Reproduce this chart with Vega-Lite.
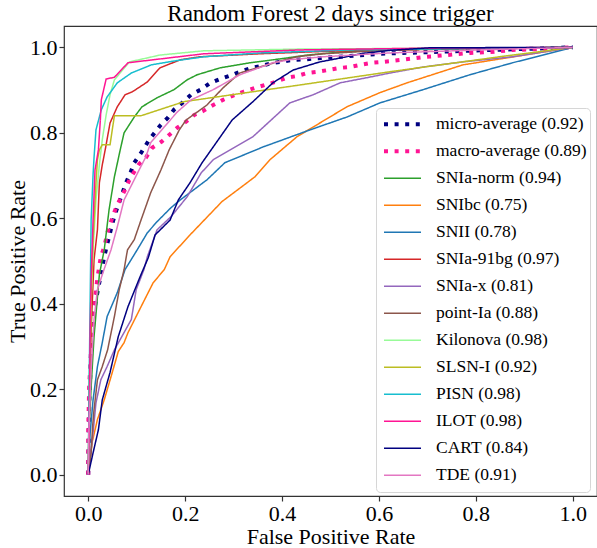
{
 "$schema": "https://vega.github.io/schema/vega-lite/v6.json",
 "width": 533, "height": 470,
 "autosize": {"type": "none"},
 "padding": {"left": 64, "top": 26, "right": 0, "bottom": 52},
 "background": "white",
 "title": {"text": "Random Forest 2 days since trigger", "anchor": "middle", "frame": "group", "offset": 0, "font": "Liberation Serif", "fontSize": 23, "fontWeight": "normal", "color": "black"},
 "data": {"values": [
{"series":"micro-average (0.92)","fpr":0,"tpr":0},{"series":"micro-average (0.92)","fpr":0.001,"tpr":0.082},{"series":"micro-average (0.92)","fpr":0.002,"tpr":0.168},{"series":"micro-average (0.92)","fpr":0.006,"tpr":0.285},{"series":"micro-average (0.92)","fpr":0.009,"tpr":0.356},{"series":"micro-average (0.92)","fpr":0.016,"tpr":0.409},{"series":"micro-average (0.92)","fpr":0.026,"tpr":0.468},{"series":"micro-average (0.92)","fpr":0.033,"tpr":0.51},{"series":"micro-average (0.92)","fpr":0.04,"tpr":0.543},{"series":"micro-average (0.92)","fpr":0.05,"tpr":0.589},{"series":"micro-average (0.92)","fpr":0.057,"tpr":0.615},{"series":"micro-average (0.92)","fpr":0.071,"tpr":0.66},{"series":"micro-average (0.92)","fpr":0.078,"tpr":0.683},{"series":"micro-average (0.92)","fpr":0.088,"tpr":0.709},{"series":"micro-average (0.92)","fpr":0.095,"tpr":0.73},{"series":"micro-average (0.92)","fpr":0.109,"tpr":0.753},{"series":"micro-average (0.92)","fpr":0.126,"tpr":0.784},{"series":"micro-average (0.92)","fpr":0.15,"tpr":0.819},{"series":"micro-average (0.92)","fpr":0.164,"tpr":0.835},{"series":"micro-average (0.92)","fpr":0.177,"tpr":0.854},{"series":"micro-average (0.92)","fpr":0.194,"tpr":0.87},{"series":"micro-average (0.92)","fpr":0.212,"tpr":0.889},{"series":"micro-average (0.92)","fpr":0.232,"tpr":0.901},{"series":"micro-average (0.92)","fpr":0.252,"tpr":0.917},{"series":"micro-average (0.92)","fpr":0.272,"tpr":0.926},{"series":"micro-average (0.92)","fpr":0.293,"tpr":0.934},{"series":"micro-average (0.92)","fpr":0.313,"tpr":0.943},{"series":"micro-average (0.92)","fpr":0.334,"tpr":0.951},{"series":"micro-average (0.92)","fpr":0.359,"tpr":0.957},{"series":"micro-average (0.92)","fpr":0.379,"tpr":0.963},{"series":"micro-average (0.92)","fpr":0.402,"tpr":0.967},{"series":"micro-average (0.92)","fpr":0.423,"tpr":0.971},{"series":"micro-average (0.92)","fpr":0.447,"tpr":0.972},{"series":"micro-average (0.92)","fpr":0.602,"tpr":0.985},{"series":"micro-average (0.92)","fpr":0.808,"tpr":0.993},{"series":"micro-average (0.92)","fpr":1,"tpr":1},
{"series":"macro-average (0.89)","fpr":0,"tpr":0},{"series":"macro-average (0.89)","fpr":0,"tpr":0.105},{"series":"macro-average (0.89)","fpr":0.002,"tpr":0.206},{"series":"macro-average (0.89)","fpr":0.006,"tpr":0.299},{"series":"macro-average (0.89)","fpr":0.009,"tpr":0.358},{"series":"macro-average (0.89)","fpr":0.014,"tpr":0.409},{"series":"macro-average (0.89)","fpr":0.019,"tpr":0.461},{"series":"macro-average (0.89)","fpr":0.026,"tpr":0.51},{"series":"macro-average (0.89)","fpr":0.033,"tpr":0.533},{"series":"macro-average (0.89)","fpr":0.04,"tpr":0.568},{"series":"macro-average (0.89)","fpr":0.047,"tpr":0.592},{"series":"macro-average (0.89)","fpr":0.054,"tpr":0.615},{"series":"macro-average (0.89)","fpr":0.062,"tpr":0.636},{"series":"macro-average (0.89)","fpr":0.078,"tpr":0.671},{"series":"macro-average (0.89)","fpr":0.085,"tpr":0.69},{"series":"macro-average (0.89)","fpr":0.095,"tpr":0.709},{"series":"macro-average (0.89)","fpr":0.105,"tpr":0.727},{"series":"macro-average (0.89)","fpr":0.119,"tpr":0.742},{"series":"macro-average (0.89)","fpr":0.132,"tpr":0.765},{"series":"macro-average (0.89)","fpr":0.151,"tpr":0.779},{"series":"macro-average (0.89)","fpr":0.167,"tpr":0.795},{"series":"macro-average (0.89)","fpr":0.184,"tpr":0.812},{"series":"macro-average (0.89)","fpr":0.202,"tpr":0.826},{"series":"macro-average (0.89)","fpr":0.219,"tpr":0.842},{"series":"macro-average (0.89)","fpr":0.237,"tpr":0.851},{"series":"macro-average (0.89)","fpr":0.258,"tpr":0.865},{"series":"macro-average (0.89)","fpr":0.278,"tpr":0.877},{"series":"macro-average (0.89)","fpr":0.299,"tpr":0.887},{"series":"macro-average (0.89)","fpr":0.32,"tpr":0.896},{"series":"macro-average (0.89)","fpr":0.344,"tpr":0.905},{"series":"macro-average (0.89)","fpr":0.365,"tpr":0.912},{"series":"macro-average (0.89)","fpr":0.386,"tpr":0.919},{"series":"macro-average (0.89)","fpr":0.41,"tpr":0.929},{"series":"macro-average (0.89)","fpr":0.431,"tpr":0.933},{"series":"macro-average (0.89)","fpr":0.452,"tpr":0.94},{"series":"macro-average (0.89)","fpr":0.474,"tpr":0.943},{"series":"macro-average (0.89)","fpr":0.495,"tpr":0.947},{"series":"macro-average (0.89)","fpr":0.52,"tpr":0.952},{"series":"macro-average (0.89)","fpr":0.54,"tpr":0.954},{"series":"macro-average (0.89)","fpr":0.561,"tpr":0.959},{"series":"macro-average (0.89)","fpr":0.586,"tpr":0.964},{"series":"macro-average (0.89)","fpr":0.608,"tpr":0.966},{"series":"macro-average (0.89)","fpr":0.649,"tpr":0.971},{"series":"macro-average (0.89)","fpr":0.699,"tpr":0.978},{"series":"macro-average (0.89)","fpr":0.74,"tpr":0.982},{"series":"macro-average (0.89)","fpr":0.788,"tpr":0.987},{"series":"macro-average (0.89)","fpr":0.829,"tpr":0.989},{"series":"macro-average (0.89)","fpr":0.876,"tpr":0.994},{"series":"macro-average (0.89)","fpr":0.932,"tpr":0.996},{"series":"macro-average (0.89)","fpr":1,"tpr":1},
{"series":"SNIa-norm (0.94)","fpr":0,"tpr":0},{"series":"SNIa-norm (0.94)","fpr":0.002,"tpr":0.105},{"series":"SNIa-norm (0.94)","fpr":0.006,"tpr":0.206},{"series":"SNIa-norm (0.94)","fpr":0.012,"tpr":0.323},{"series":"SNIa-norm (0.94)","fpr":0.023,"tpr":0.468},{"series":"SNIa-norm (0.94)","fpr":0.033,"tpr":0.526},{"series":"SNIa-norm (0.94)","fpr":0.043,"tpr":0.62},{"series":"SNIa-norm (0.94)","fpr":0.054,"tpr":0.697},{"series":"SNIa-norm (0.94)","fpr":0.066,"tpr":0.76},{"series":"SNIa-norm (0.94)","fpr":0.074,"tpr":0.8},{"series":"SNIa-norm (0.94)","fpr":0.095,"tpr":0.837},{"series":"SNIa-norm (0.94)","fpr":0.111,"tpr":0.861},{"series":"SNIa-norm (0.94)","fpr":0.142,"tpr":0.882},{"series":"SNIa-norm (0.94)","fpr":0.177,"tpr":0.901},{"series":"SNIa-norm (0.94)","fpr":0.204,"tpr":0.924},{"series":"SNIa-norm (0.94)","fpr":0.225,"tpr":0.936},{"series":"SNIa-norm (0.94)","fpr":0.272,"tpr":0.952},{"series":"SNIa-norm (0.94)","fpr":0.334,"tpr":0.964},{"series":"SNIa-norm (0.94)","fpr":0.396,"tpr":0.973},{"series":"SNIa-norm (0.94)","fpr":0.452,"tpr":0.982},{"series":"SNIa-norm (0.94)","fpr":0.52,"tpr":0.989},{"series":"SNIa-norm (0.94)","fpr":0.623,"tpr":0.994},{"series":"SNIa-norm (0.94)","fpr":0.808,"tpr":0.998},{"series":"SNIa-norm (0.94)","fpr":1,"tpr":1},
{"series":"SNIbc (0.75)","fpr":0,"tpr":0},{"series":"SNIbc (0.75)","fpr":0.008,"tpr":0.075},{"series":"SNIbc (0.75)","fpr":0.019,"tpr":0.129},{"series":"SNIbc (0.75)","fpr":0.033,"tpr":0.175},{"series":"SNIbc (0.75)","fpr":0.047,"tpr":0.229},{"series":"SNIbc (0.75)","fpr":0.062,"tpr":0.288},{"series":"SNIbc (0.75)","fpr":0.074,"tpr":0.309},{"series":"SNIbc (0.75)","fpr":0.082,"tpr":0.332},{"series":"SNIbc (0.75)","fpr":0.109,"tpr":0.393},{"series":"SNIbc (0.75)","fpr":0.134,"tpr":0.449},{"series":"SNIbc (0.75)","fpr":0.157,"tpr":0.48},{"series":"SNIbc (0.75)","fpr":0.169,"tpr":0.51},{"series":"SNIbc (0.75)","fpr":0.21,"tpr":0.561},{"series":"SNIbc (0.75)","fpr":0.276,"tpr":0.639},{"series":"SNIbc (0.75)","fpr":0.344,"tpr":0.697},{"series":"SNIbc (0.75)","fpr":0.375,"tpr":0.737},{"series":"SNIbc (0.75)","fpr":0.431,"tpr":0.791},{"series":"SNIbc (0.75)","fpr":0.534,"tpr":0.861},{"series":"SNIbc (0.75)","fpr":0.602,"tpr":0.894},{"series":"SNIbc (0.75)","fpr":0.658,"tpr":0.917},{"series":"SNIbc (0.75)","fpr":0.773,"tpr":0.959},{"series":"SNIbc (0.75)","fpr":1,"tpr":1},
{"series":"SNII (0.78)","fpr":0,"tpr":0},{"series":"SNII (0.78)","fpr":0.004,"tpr":0.098},{"series":"SNII (0.78)","fpr":0.01,"tpr":0.175},{"series":"SNII (0.78)","fpr":0.019,"tpr":0.253},{"series":"SNII (0.78)","fpr":0.029,"tpr":0.309},{"series":"SNII (0.78)","fpr":0.039,"tpr":0.37},{"series":"SNII (0.78)","fpr":0.06,"tpr":0.426},{"series":"SNII (0.78)","fpr":0.076,"tpr":0.48},{"series":"SNII (0.78)","fpr":0.101,"tpr":0.526},{"series":"SNII (0.78)","fpr":0.122,"tpr":0.566},{"series":"SNII (0.78)","fpr":0.142,"tpr":0.592},{"series":"SNII (0.78)","fpr":0.171,"tpr":0.625},{"series":"SNII (0.78)","fpr":0.19,"tpr":0.643},{"series":"SNII (0.78)","fpr":0.245,"tpr":0.69},{"series":"SNII (0.78)","fpr":0.282,"tpr":0.73},{"series":"SNII (0.78)","fpr":0.361,"tpr":0.767},{"series":"SNII (0.78)","fpr":0.458,"tpr":0.807},{"series":"SNII (0.78)","fpr":0.534,"tpr":0.837},{"series":"SNII (0.78)","fpr":0.602,"tpr":0.87},{"series":"SNII (0.78)","fpr":0.691,"tpr":0.901},{"series":"SNII (0.78)","fpr":0.788,"tpr":0.936},{"series":"SNII (0.78)","fpr":0.876,"tpr":0.964},{"series":"SNII (0.78)","fpr":1,"tpr":1},
{"series":"SNIa-91bg (0.97)","fpr":0,"tpr":0},{"series":"SNIa-91bg (0.97)","fpr":0.002,"tpr":0.129},{"series":"SNIa-91bg (0.97)","fpr":0.006,"tpr":0.339},{"series":"SNIa-91bg (0.97)","fpr":0.012,"tpr":0.503},{"series":"SNIa-91bg (0.97)","fpr":0.019,"tpr":0.573},{"series":"SNIa-91bg (0.97)","fpr":0.023,"tpr":0.683},{"series":"SNIa-91bg (0.97)","fpr":0.029,"tpr":0.725},{"series":"SNIa-91bg (0.97)","fpr":0.035,"tpr":0.76},{"series":"SNIa-91bg (0.97)","fpr":0.045,"tpr":0.823},{"series":"SNIa-91bg (0.97)","fpr":0.06,"tpr":0.861},{"series":"SNIa-91bg (0.97)","fpr":0.076,"tpr":0.889},{"series":"SNIa-91bg (0.97)","fpr":0.091,"tpr":0.896},{"series":"SNIa-91bg (0.97)","fpr":0.122,"tpr":0.919},{"series":"SNIa-91bg (0.97)","fpr":0.148,"tpr":0.952},{"series":"SNIa-91bg (0.97)","fpr":0.19,"tpr":0.971},{"series":"SNIa-91bg (0.97)","fpr":0.231,"tpr":0.978},{"series":"SNIa-91bg (0.97)","fpr":0.355,"tpr":0.985},{"series":"SNIa-91bg (0.97)","fpr":0.499,"tpr":0.991},{"series":"SNIa-91bg (0.97)","fpr":0.746,"tpr":0.996},{"series":"SNIa-91bg (0.97)","fpr":1,"tpr":1},
{"series":"SNIa-x (0.81)","fpr":0,"tpr":0},{"series":"SNIa-x (0.81)","fpr":0.01,"tpr":0.098},{"series":"SNIa-x (0.81)","fpr":0.016,"tpr":0.168},{"series":"SNIa-x (0.81)","fpr":0.026,"tpr":0.222},{"series":"SNIa-x (0.81)","fpr":0.039,"tpr":0.253},{"series":"SNIa-x (0.81)","fpr":0.054,"tpr":0.292},{"series":"SNIa-x (0.81)","fpr":0.089,"tpr":0.363},{"series":"SNIa-x (0.81)","fpr":0.099,"tpr":0.433},{"series":"SNIa-x (0.81)","fpr":0.115,"tpr":0.48},{"series":"SNIa-x (0.81)","fpr":0.122,"tpr":0.51},{"series":"SNIa-x (0.81)","fpr":0.142,"tpr":0.573},{"series":"SNIa-x (0.81)","fpr":0.171,"tpr":0.604},{"series":"SNIa-x (0.81)","fpr":0.204,"tpr":0.65},{"series":"SNIa-x (0.81)","fpr":0.233,"tpr":0.706},{"series":"SNIa-x (0.81)","fpr":0.258,"tpr":0.737},{"series":"SNIa-x (0.81)","fpr":0.34,"tpr":0.791},{"series":"SNIa-x (0.81)","fpr":0.416,"tpr":0.87},{"series":"SNIa-x (0.81)","fpr":0.464,"tpr":0.889},{"series":"SNIa-x (0.81)","fpr":0.52,"tpr":0.917},{"series":"SNIa-x (0.81)","fpr":0.575,"tpr":0.929},{"series":"SNIa-x (0.81)","fpr":0.623,"tpr":0.94},{"series":"SNIa-x (0.81)","fpr":0.691,"tpr":0.954},{"series":"SNIa-x (0.81)","fpr":0.773,"tpr":0.966},{"series":"SNIa-x (0.81)","fpr":0.876,"tpr":0.978},{"series":"SNIa-x (0.81)","fpr":1,"tpr":1},
{"series":"point-Ia (0.88)","fpr":0,"tpr":0},{"series":"point-Ia (0.88)","fpr":0.006,"tpr":0.051},{"series":"point-Ia (0.88)","fpr":0.009,"tpr":0.112},{"series":"point-Ia (0.88)","fpr":0.012,"tpr":0.152},{"series":"point-Ia (0.88)","fpr":0.019,"tpr":0.222},{"series":"point-Ia (0.88)","fpr":0.029,"tpr":0.253},{"series":"point-Ia (0.88)","fpr":0.04,"tpr":0.292},{"series":"point-Ia (0.88)","fpr":0.054,"tpr":0.37},{"series":"point-Ia (0.88)","fpr":0.064,"tpr":0.433},{"series":"point-Ia (0.88)","fpr":0.074,"tpr":0.48},{"series":"point-Ia (0.88)","fpr":0.081,"tpr":0.526},{"series":"point-Ia (0.88)","fpr":0.095,"tpr":0.55},{"series":"point-Ia (0.88)","fpr":0.109,"tpr":0.596},{"series":"point-Ia (0.88)","fpr":0.129,"tpr":0.66},{"series":"point-Ia (0.88)","fpr":0.15,"tpr":0.713},{"series":"point-Ia (0.88)","fpr":0.167,"tpr":0.76},{"series":"point-Ia (0.88)","fpr":0.188,"tpr":0.807},{"series":"point-Ia (0.88)","fpr":0.202,"tpr":0.83},{"series":"point-Ia (0.88)","fpr":0.223,"tpr":0.847},{"series":"point-Ia (0.88)","fpr":0.245,"tpr":0.865},{"series":"point-Ia (0.88)","fpr":0.278,"tpr":0.905},{"series":"point-Ia (0.88)","fpr":0.313,"tpr":0.94},{"series":"point-Ia (0.88)","fpr":0.348,"tpr":0.952},{"series":"point-Ia (0.88)","fpr":0.39,"tpr":0.966},{"series":"point-Ia (0.88)","fpr":0.431,"tpr":0.978},{"series":"point-Ia (0.88)","fpr":0.485,"tpr":0.985},{"series":"point-Ia (0.88)","fpr":0.623,"tpr":0.994},{"series":"point-Ia (0.88)","fpr":0.808,"tpr":0.998},{"series":"point-Ia (0.88)","fpr":1,"tpr":1},
{"series":"Kilonova (0.98)","fpr":0,"tpr":0},{"series":"Kilonova (0.98)","fpr":0.002,"tpr":0.222},{"series":"Kilonova (0.98)","fpr":0.006,"tpr":0.409},{"series":"Kilonova (0.98)","fpr":0.01,"tpr":0.526},{"series":"Kilonova (0.98)","fpr":0.016,"tpr":0.643},{"series":"Kilonova (0.98)","fpr":0.023,"tpr":0.725},{"series":"Kilonova (0.98)","fpr":0.029,"tpr":0.784},{"series":"Kilonova (0.98)","fpr":0.037,"tpr":0.842},{"series":"Kilonova (0.98)","fpr":0.045,"tpr":0.889},{"series":"Kilonova (0.98)","fpr":0.054,"tpr":0.924},{"series":"Kilonova (0.98)","fpr":0.085,"tpr":0.966},{"series":"Kilonova (0.98)","fpr":0.148,"tpr":0.982},{"series":"Kilonova (0.98)","fpr":0.239,"tpr":0.992},{"series":"Kilonova (0.98)","fpr":0.437,"tpr":0.996},{"series":"Kilonova (0.98)","fpr":1,"tpr":1},
{"series":"SLSN-I (0.92)","fpr":0,"tpr":0},{"series":"SLSN-I (0.92)","fpr":0.002,"tpr":0.175},{"series":"SLSN-I (0.92)","fpr":0.006,"tpr":0.409},{"series":"SLSN-I (0.92)","fpr":0.01,"tpr":0.55},{"series":"SLSN-I (0.92)","fpr":0.016,"tpr":0.683},{"series":"SLSN-I (0.92)","fpr":0.019,"tpr":0.737},{"series":"SLSN-I (0.92)","fpr":0.023,"tpr":0.76},{"series":"SLSN-I (0.92)","fpr":0.029,"tpr":0.772},{"series":"SLSN-I (0.92)","fpr":0.045,"tpr":0.772},{"series":"SLSN-I (0.92)","fpr":0.054,"tpr":0.84},{"series":"SLSN-I (0.92)","fpr":0.109,"tpr":0.84},{"series":"SLSN-I (0.92)","fpr":0.198,"tpr":0.873},{"series":"SLSN-I (0.92)","fpr":0.437,"tpr":0.912},{"series":"SLSN-I (0.92)","fpr":0.623,"tpr":0.943},{"series":"SLSN-I (0.92)","fpr":0.849,"tpr":0.978},{"series":"SLSN-I (0.92)","fpr":1,"tpr":1},
{"series":"PISN (0.98)","fpr":0,"tpr":0},{"series":"PISN (0.98)","fpr":0.002,"tpr":0.222},{"series":"PISN (0.98)","fpr":0.004,"tpr":0.409},{"series":"PISN (0.98)","fpr":0.006,"tpr":0.596},{"series":"PISN (0.98)","fpr":0.01,"tpr":0.702},{"series":"PISN (0.98)","fpr":0.012,"tpr":0.742},{"series":"PISN (0.98)","fpr":0.016,"tpr":0.807},{"series":"PISN (0.98)","fpr":0.027,"tpr":0.854},{"series":"PISN (0.98)","fpr":0.039,"tpr":0.884},{"series":"PISN (0.98)","fpr":0.06,"tpr":0.917},{"series":"PISN (0.98)","fpr":0.089,"tpr":0.94},{"series":"PISN (0.98)","fpr":0.13,"tpr":0.959},{"series":"PISN (0.98)","fpr":0.177,"tpr":0.968},{"series":"PISN (0.98)","fpr":0.239,"tpr":0.978},{"series":"PISN (0.98)","fpr":0.355,"tpr":0.987},{"series":"PISN (0.98)","fpr":0.54,"tpr":0.994},{"series":"PISN (0.98)","fpr":1,"tpr":1},
{"series":"ILOT (0.98)","fpr":0,"tpr":0},{"series":"ILOT (0.98)","fpr":0.002,"tpr":0.105},{"series":"ILOT (0.98)","fpr":0.004,"tpr":0.339},{"series":"ILOT (0.98)","fpr":0.006,"tpr":0.456},{"series":"ILOT (0.98)","fpr":0.01,"tpr":0.596},{"series":"ILOT (0.98)","fpr":0.014,"tpr":0.713},{"series":"ILOT (0.98)","fpr":0.021,"tpr":0.76},{"series":"ILOT (0.98)","fpr":0.025,"tpr":0.83},{"series":"ILOT (0.98)","fpr":0.027,"tpr":0.877},{"series":"ILOT (0.98)","fpr":0.037,"tpr":0.926},{"series":"ILOT (0.98)","fpr":0.054,"tpr":0.93},{"series":"ILOT (0.98)","fpr":0.082,"tpr":0.964},{"series":"ILOT (0.98)","fpr":0.239,"tpr":0.985},{"series":"ILOT (0.98)","fpr":0.437,"tpr":0.994},{"series":"ILOT (0.98)","fpr":0.685,"tpr":0.998},{"series":"ILOT (0.98)","fpr":1,"tpr":1},
{"series":"CART (0.84)","fpr":0,"tpr":0},{"series":"CART (0.84)","fpr":0.01,"tpr":0.051},{"series":"CART (0.84)","fpr":0.021,"tpr":0.105},{"series":"CART (0.84)","fpr":0.029,"tpr":0.175},{"series":"CART (0.84)","fpr":0.045,"tpr":0.239},{"series":"CART (0.84)","fpr":0.062,"tpr":0.323},{"series":"CART (0.84)","fpr":0.082,"tpr":0.393},{"series":"CART (0.84)","fpr":0.107,"tpr":0.463},{"series":"CART (0.84)","fpr":0.124,"tpr":0.508},{"series":"CART (0.84)","fpr":0.138,"tpr":0.561},{"series":"CART (0.84)","fpr":0.169,"tpr":0.596},{"series":"CART (0.84)","fpr":0.186,"tpr":0.643},{"series":"CART (0.84)","fpr":0.21,"tpr":0.683},{"series":"CART (0.84)","fpr":0.235,"tpr":0.73},{"series":"CART (0.84)","fpr":0.258,"tpr":0.767},{"series":"CART (0.84)","fpr":0.297,"tpr":0.83},{"series":"CART (0.84)","fpr":0.34,"tpr":0.873},{"series":"CART (0.84)","fpr":0.381,"tpr":0.917},{"series":"CART (0.84)","fpr":0.423,"tpr":0.947},{"series":"CART (0.84)","fpr":0.478,"tpr":0.966},{"series":"CART (0.84)","fpr":0.52,"tpr":0.975},{"series":"CART (0.84)","fpr":0.567,"tpr":0.986},{"series":"CART (0.84)","fpr":0.623,"tpr":0.993},{"series":"CART (0.84)","fpr":0.705,"tpr":0.999},{"series":"CART (0.84)","fpr":1,"tpr":1},
{"series":"TDE (0.91)","fpr":0,"tpr":0},{"series":"TDE (0.91)","fpr":0.001,"tpr":0.091},{"series":"TDE (0.91)","fpr":0.006,"tpr":0.246},{"series":"TDE (0.91)","fpr":0.012,"tpr":0.363},{"series":"TDE (0.91)","fpr":0.019,"tpr":0.433},{"series":"TDE (0.91)","fpr":0.031,"tpr":0.475},{"series":"TDE (0.91)","fpr":0.047,"tpr":0.526},{"series":"TDE (0.91)","fpr":0.06,"tpr":0.58},{"series":"TDE (0.91)","fpr":0.074,"tpr":0.643},{"series":"TDE (0.91)","fpr":0.105,"tpr":0.713},{"series":"TDE (0.91)","fpr":0.119,"tpr":0.744},{"series":"TDE (0.91)","fpr":0.129,"tpr":0.777},{"series":"TDE (0.91)","fpr":0.157,"tpr":0.814},{"series":"TDE (0.91)","fpr":0.184,"tpr":0.849},{"series":"TDE (0.91)","fpr":0.212,"tpr":0.877},{"series":"TDE (0.91)","fpr":0.258,"tpr":0.901},{"series":"TDE (0.91)","fpr":0.313,"tpr":0.936},{"series":"TDE (0.91)","fpr":0.34,"tpr":0.947},{"series":"TDE (0.91)","fpr":0.381,"tpr":0.964},{"series":"TDE (0.91)","fpr":0.416,"tpr":0.971},{"series":"TDE (0.91)","fpr":0.485,"tpr":0.978},{"series":"TDE (0.91)","fpr":0.623,"tpr":0.987},{"series":"TDE (0.91)","fpr":0.808,"tpr":0.994},{"series":"TDE (0.91)","fpr":1,"tpr":1}
 ]},
 "encoding": {
  "x": {"field": "fpr", "type": "quantitative", "scale": {"domain": [-0.05, 1.05], "nice": false, "zero": false},
        "axis": {"title": "False Positive Rate", "values": [0, 0.2, 0.4, 0.6, 0.8, 1], "format": ".1f", "labelPadding": 2, "titleBaseline": "alphabetic", "titleY": 47}},
  "y": {"field": "tpr", "type": "quantitative", "scale": {"domain": [-0.05, 1.05], "nice": false, "zero": false},
        "axis": {"title": "True Positive Rate", "values": [0, 0.2, 0.4, 0.6, 0.8, 1], "format": ".1f", "labelPadding": 2, "titleX": -35, "titleY": 235}},
  "color": {"field": "series", "type": "nominal", "legend": {"title": null},
    "scale": {"domain": ["micro-average (0.92)", "macro-average (0.89)", "SNIa-norm (0.94)", "SNIbc (0.75)", "SNII (0.78)", "SNIa-91bg (0.97)", "SNIa-x (0.81)", "point-Ia (0.88)", "Kilonova (0.98)", "SLSN-I (0.92)", "PISN (0.98)", "ILOT (0.98)", "CART (0.84)", "TDE (0.91)"],
              "range": ["#000080", "#ff1493", "#2ca02c", "#ff7f0e", "#1f77b4", "#d62728", "#9467bd", "#8c564b", "#98fb98", "#bcbd22", "#17becf", "#ff1493", "#000080", "#e377c2"]}},
  "strokeDash": {"field": "series", "type": "nominal", "legend": {"title": null},
    "scale": {"domain": ["micro-average (0.92)", "macro-average (0.89)", "SNIa-norm (0.94)", "SNIbc (0.75)", "SNII (0.78)", "SNIa-91bg (0.97)", "SNIa-x (0.81)", "point-Ia (0.88)", "Kilonova (0.98)", "SLSN-I (0.92)", "PISN (0.98)", "ILOT (0.98)", "CART (0.84)", "TDE (0.91)"],
              "range": [[4, 6.6], [4, 6.6], [1, 0], [1, 0], [1, 0], [1, 0], [1, 0], [1, 0], [1, 0], [1, 0], [1, 0], [1, 0], [1, 0], [1, 0]]}},
  "strokeWidth": {"field": "series", "type": "nominal", "legend": {"title": null},
    "scale": {"type": "ordinal", "domain": ["micro-average (0.92)", "macro-average (0.89)", "SNIa-norm (0.94)", "SNIbc (0.75)", "SNII (0.78)", "SNIa-91bg (0.97)", "SNIa-x (0.81)", "point-Ia (0.88)", "Kilonova (0.98)", "SLSN-I (0.92)", "PISN (0.98)", "ILOT (0.98)", "CART (0.84)", "TDE (0.91)"],
              "range": [4, 4, 1.5, 1.5, 1.5, 1.5, 1.5, 1.5, 1.5, 1.5, 1.5, 1.5, 1.5, 1.5]}},
  "order": [{"field": "tpr", "type": "quantitative"}, {"field": "fpr", "type": "quantitative"}]
 },
 "layer": [
  {"transform": [{"filter": {"field": "series", "oneOf": ["micro-average (0.92)", "macro-average (0.89)"]}}],
   "mark": {"type": "line", "strokeCap": "butt"}},
  {"transform": [{"filter": {"not": {"field": "series", "oneOf": ["micro-average (0.92)", "macro-average (0.89)"]}}}],
   "mark": {"type": "line", "strokeCap": "butt"}}
 ],
 "config": {
  "view": {"stroke": "#333333", "strokeWidth": 1.2},
  "axis": {"labelFont": "Liberation Serif", "titleFont": "Liberation Serif", "labelFontSize": 22, "titleFontSize": 22, "titleFontWeight": "normal", "labelColor": "black", "titleColor": "black", "tickColor": "#333333", "tickSize": 5, "tickWidth": 1.2, "domain": false, "grid": false},
  "legend": {"orient": "none", "legendX": 312, "legendY": 82, "labelFont": "Liberation Serif", "labelFontSize": 17.5, "labelColor": "black", "symbolType": "stroke", "symbolSize": 1369, "labelOffset": 13, "clipHeight": 26.7, "rowPadding": 0, "padding": 3, "symbolOffset": 3, "fillColor": "rgba(255,255,255,0.8)", "strokeColor": "#d6d6d6", "cornerRadius": 4, "labelLimit": 400}
 }
}
